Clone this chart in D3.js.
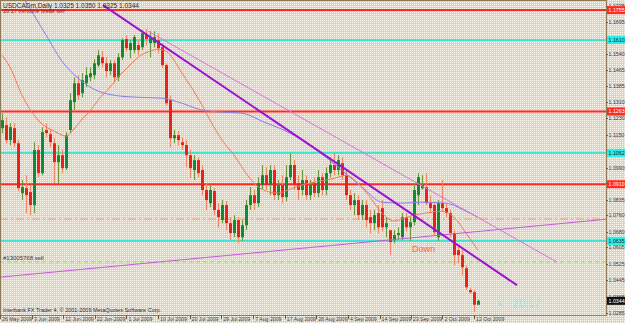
<!DOCTYPE html>
<html>
<head>
<meta charset="utf-8">
<script src="https://cdn.jsdelivr.net/npm/d3@7/dist/d3.min.js"></script>
<style>
  body { margin: 0; background: #ecd6a4; }
  svg { display: block; font-family: "Liberation Sans", Arial, sans-serif; }
</style>
</head>
<body>
<svg id="chart" width="625" height="323"></svg>
<script>
// daily bars, USDCADm, 26 May 2009 .. 13 Oct 2009
const open = [1.1182,1.1197,1.1124,1.1182,1.1109,1.0867,1.0891,1.0872,1.0809,1.1076,
  1.0964,1.1173,1.1153,1.1109,1.1017,1.1051,1.0988,1.1173,1.1308,1.1400,
  1.1352,1.1400,1.1429,1.1439,1.1488,1.1526,1.1497,1.1459,1.1497,1.1429,
  1.1526,1.1615,1.1561,1.1561,1.1585,1.1575,1.1634,1.1595,1.1595,1.1609,
  1.1575,1.1488,1.1318,1.1133,1.1148,1.1114,1.1100,1.1051,1.0979,1.1027,
  1.0979,1.0882,1.0818,1.0877,1.0785,1.0736,1.0809,1.0721,1.0673,1.0736,
  1.0653,1.0711,1.0809,1.0857,1.0818,1.0906,1.0954,1.0906,1.0979,1.0857,
  1.0906,1.0847,1.0944,1.1003,1.0915,1.0882,1.0930,1.0857,1.0915,1.0867,
  1.0944,1.0882,1.0964,1.1003,1.0979,1.1012,1.0954,1.0857,1.0809,1.0833,
  1.0760,1.0809,1.0750,1.0721,1.0770,1.0794,1.0701,1.0687,1.0638,1.0663,
  1.0653,1.0750,1.0701,1.0726,1.0857,1.0891,1.0896,1.0818,1.0809,1.0653,
  1.0818,1.0794,1.0770,1.0673,1.0590,1.0566,1.0502,1.0396,1.0386,1.0325];
const high = [1.1255,1.1235,1.1206,1.1206,1.1124,1.0930,1.0954,1.0906,1.1114,1.1100,
  1.1187,1.1206,1.1173,1.1133,1.1100,1.1076,1.1163,1.1352,1.1429,1.1439,
  1.1449,1.1478,1.1478,1.1517,1.1561,1.1556,1.1526,1.1512,1.1512,1.1546,
  1.1619,1.1634,1.1609,1.1634,1.1609,1.1658,1.1663,1.1653,1.1653,1.1643,
  1.1595,1.1497,1.1342,1.1173,1.1168,1.1138,1.1124,1.1076,1.1051,1.1041,
  1.1003,1.0915,1.0906,1.0891,1.0818,1.0833,1.0828,1.0750,1.0760,1.0750,
  1.0736,1.0833,1.0896,1.0882,1.0944,1.1003,1.0993,1.1003,1.1003,1.0930,
  1.0954,1.1003,1.1061,1.1027,1.0954,1.0979,1.0954,1.0930,1.0944,1.0979,
  1.0964,1.0993,1.1041,1.1061,1.1051,1.1041,1.0979,1.0882,1.0867,1.0857,
  1.0833,1.0833,1.0785,1.0785,1.0809,1.0833,1.0750,1.0677,1.0687,1.0701,
  1.0770,1.0770,1.0750,1.0915,1.0964,1.0954,1.0964,1.0857,1.0818,1.0833,
  1.0930,1.0818,1.0785,1.0687,1.0614,1.0590,1.0517,1.0406,1.0396,1.0350];
const low = [1.1158,1.1109,1.1100,1.1090,1.0877,1.0833,1.0770,1.0760,1.0770,1.0944,
  1.0954,1.1138,1.1090,1.0915,1.0915,1.0964,1.0979,1.1158,1.1270,1.1318,
  1.1332,1.1381,1.1410,1.1420,1.1478,1.1478,1.1429,1.1439,1.1400,1.1410,
  1.1512,1.1556,1.1521,1.1546,1.1536,1.1561,1.1585,1.1526,1.1575,1.1546,
  1.1478,1.1294,1.1090,1.1109,1.1100,1.1076,1.0993,1.0939,1.0930,1.0944,
  1.0857,1.0785,1.0799,1.0760,1.0701,1.0721,1.0687,1.0638,1.0653,1.0624,
  1.0634,1.0687,1.0785,1.0785,1.0799,1.0882,1.0882,1.0857,1.0833,1.0833,
  1.0818,1.0828,1.0930,1.0882,1.0833,1.0857,1.0833,1.0833,1.0847,1.0847,
  1.0857,1.0857,1.0944,1.0954,1.0954,1.0930,1.0833,1.0785,1.0760,1.0736,
  1.0736,1.0701,1.0673,1.0687,1.0673,1.0682,1.0653,1.0566,1.0624,1.0644,
  1.0638,1.0682,1.0634,1.0711,1.0809,1.0882,1.0809,1.0770,1.0663,1.0634,
  1.0779,1.0750,1.0653,1.0517,1.0527,1.0469,1.0396,1.0377,1.0289,1.0325];
const close = [1.1221,1.1124,1.1187,1.1109,1.0891,1.0896,1.0857,1.0809,1.1076,1.0964,
  1.1163,1.1158,1.1114,1.1017,1.1051,1.0988,1.1148,1.1318,1.1400,1.1342,
  1.1415,1.1439,1.1449,1.1497,1.1536,1.1497,1.1459,1.1497,1.1429,1.1526,
  1.1609,1.1570,1.1595,1.1624,1.1561,1.1643,1.1615,1.1619,1.1624,1.1570,
  1.1488,1.1303,1.1133,1.1148,1.1124,1.1100,1.1051,1.0988,1.1027,1.0964,
  1.0882,1.0833,1.0882,1.0785,1.0750,1.0809,1.0721,1.0673,1.0736,1.0653,
  1.0711,1.0809,1.0857,1.0818,1.0915,1.0954,1.0906,1.0979,1.0857,1.0906,
  1.0847,1.0944,1.1003,1.0906,1.0882,1.0930,1.0857,1.0906,1.0867,1.0944,
  1.0882,1.0964,1.1003,1.0979,1.1027,1.0954,1.0857,1.0809,1.0833,1.0760,
  1.0809,1.0736,1.0721,1.0760,1.0701,1.0701,1.0721,1.0629,1.0663,1.0673,
  1.0750,1.0701,1.0726,1.0882,1.0944,1.0906,1.0818,1.0794,1.0677,1.0818,
  1.0794,1.0770,1.0673,1.0566,1.0566,1.0507,1.0410,1.0386,1.0325,1.0344];

// moving averages (bar index, price)
const fastMaIdx = [0,2,5,8,10,13,15,16,18,20,22,24,27,29,32,34,37,39,41,43,45,47,50,52,55,58,61,63,66,69,72,75,78,81,84,86,89,92,95,98,100,103,106,110,113,116,119];
const fastMa = [1.1536,1.1478,1.1342,1.1245,1.1202,1.1168,1.1148,1.1143,1.1178,1.1226,1.1265,1.1318,1.1381,1.1429,1.1488,1.1526,1.1556,1.1565,1.1556,1.1512,1.1449,1.1391,1.1294,1.1221,1.1124,1.1051,1.0964,1.0915,1.0877,1.0867,1.0886,1.0906,1.0920,1.0930,1.0944,1.0954,1.0915,1.0847,1.0770,1.0731,1.0741,1.0760,1.0770,1.0779,1.0750,1.0673,1.0590];
const slowMaIdx = [4,6,8,11,15,19,23,28,34,40,45,50,55,60,65,72,77,81,84,90,95,100,105,111,116,119];
const slowMa = [1.1837,1.1794,1.1731,1.1634,1.1507,1.1425,1.1371,1.1342,1.1332,1.1328,1.1303,1.1270,1.1260,1.1255,1.1216,1.1158,1.1100,1.1041,1.0993,1.0896,1.0823,1.0818,1.0823,1.0818,1.0779,1.0750];

// drawn objects
const channelTop = [[25.25, 1.1779], [128.75, 1.0420]];
const channelThin = [[36.5, 1.1653], [138.75, 1.0532]];
const supportLine = [[-0.5, 1.0459], [151, 1.0740]];
const redLevels = [1.1755, 1.1263, 1.0910];
const cyanLevels = [1.1610, 1.1062, 1.0635];
const dashDotLevel = 1.0741;
const dashLevel = 1.0533;

const priceTicks = [1.1775,1.1695,1.1620,1.1540,1.1465,1.1385,1.1310,1.1230,1.1150,1.1075,1.0990,1.0915,1.0835,1.0760,1.0680,1.0605,1.0525,1.0445,1.0365,1.0285];
const dateLabels = ["26 May 2009","3 Jun 2009","12 Jun 2009","22 Jun 2009","1 Jul 2009","10 Jul 2009","20 Jul 2009","29 Jul 2009","7 Aug 2009","17 Aug 2009","26 Aug 2009","4 Sep 2009","14 Sep 2009","23 Sep 2009","2 Oct 2009","12 Oct 2009"];
const dateTickIdx = [-0.5,7.5,15.3,23.2,31.1,39,46.9,54.8,62.8,70.7,78.6,86.5,94.4,102.2,110.1,118];
const lastPrice = 1.0344;

const W = 625, H = 323;
const plotRight = 606, plotBottom = 315;

const x = d3.scaleLinear().domain([0, 151]).range([2, 606]);
const y = d3.scaleLinear().domain([1.0285, 1.1775]).range([313, 6]);

const svg = d3.select("#chart");
const defs = svg.append("defs");

const pat = defs.append("pattern")
    .attr("id", "dots")
    .attr("width", 2).attr("height", 2)
    .attr("patternUnits", "userSpaceOnUse");
pat.append("rect").attr("width", 2).attr("height", 2).attr("fill", "#ead29e");
pat.append("rect").attr("width", 1).attr("height", 1).attr("fill", "#fffaf0");

defs.append("clipPath").attr("id", "plot")
    .append("rect").attr("x", 1).attr("y", 1)
    .attr("width", plotRight - 1).attr("height", plotBottom - 1);

svg.append("rect").attr("width", W).attr("height", H).attr("fill", "url(#dots)");

const g = svg.append("g").attr("clip-path", "url(#plot)");

// horizontal levels
g.selectAll("line.red").data(redLevels).enter().append("line")
    .attr("x1", 0).attr("x2", plotRight)
    .attr("y1", d => y(d)).attr("y2", d => y(d))
    .attr("stroke", "#ff2b22").attr("stroke-width", 2);

g.selectAll("line.cyan").data(cyanLevels).enter().append("line")
    .attr("x1", 0).attr("x2", plotRight)
    .attr("y1", d => y(d)).attr("y2", d => y(d))
    .attr("stroke", "#3fe6d6").attr("stroke-width", 2);

g.append("line")
    .attr("x1", 0).attr("x2", plotRight)
    .attr("y1", y(dashDotLevel)).attr("y2", y(dashDotLevel))
    .attr("stroke", "#f2a27a").attr("stroke-width", 1.2)
    .attr("stroke-dasharray", "8,3,2,3");

g.append("line")
    .attr("x1", 0).attr("x2", plotRight)
    .attr("y1", y(dashLevel)).attr("y2", y(dashLevel))
    .attr("stroke", "#8fdc4f").attr("stroke-width", 1)
    .attr("stroke-dasharray", "4,3");

// candles
const bars = d3.range(open.length);

g.selectAll("line.wick").data(bars).enter().append("line")
    .attr("x1", i => Math.round(x(i)) + 0.5)
    .attr("x2", i => Math.round(x(i)) + 0.5)
    .attr("y1", i => y(high[i]))
    .attr("y2", i => y(low[i]))
    .attr("stroke", i => close[i] >= open[i] ? "#6f9a3c" : "#f08a6a")
    .attr("stroke-width", 1);

g.selectAll("rect.body").data(bars).enter().append("rect")
    .attr("x", i => Math.round(x(i)) - 1)
    .attr("width", 3)
    .attr("y", i => y(Math.max(open[i], close[i])))
    .attr("height", i => Math.max(1, Math.abs(y(open[i]) - y(close[i]))))
    .attr("fill", i => close[i] >= open[i] ? "#138a3a" : "#e8231c");

// moving averages
const maLine = (idx, vals) => d3.line()
    .x((d, k) => x(idx[k]))
    .y(d => y(d))
    .curve(d3.curveMonotoneX)(vals);

g.append("path").attr("d", maLine(slowMaIdx, slowMa))
    .attr("fill", "none").attr("stroke", "#8a7ee6").attr("stroke-width", 1);

g.append("path").attr("d", maLine(fastMaIdx, fastMa))
    .attr("fill", "none").attr("stroke", "#f07a5c").attr("stroke-width", 1);

// trend lines
const seg = pts => d3.line().x(d => x(d[0])).y(d => y(d[1]))(pts);

g.append("path").attr("d", seg(supportLine))
    .attr("fill", "none").attr("stroke", "#c55ad8").attr("stroke-width", 1);

g.append("path").attr("d", seg(channelThin))
    .attr("fill", "none").attr("stroke", "#d874d8").attr("stroke-width", 1);

g.append("path").attr("d", seg(channelTop))
    .attr("fill", "none").attr("stroke", "#9a12d2").attr("stroke-width", 2);

// texts on the chart
svg.append("text").attr("x", 3).attr("y", 7.5)
    .style("font-size", "6.5px").attr("fill", "#2a2a2a")
    .text("USDCADm,Daily  1.0325 1.0350 1.0325 1.0344");

svg.append("text").attr("x", 3).attr("y", 13)
    .style("font-size", "5.5px").attr("fill", "#7a1a10")
    .text("20:17  trendline break sell");

svg.append("text").attr("x", 3).attr("y", 260)
    .style("font-size", "6px").attr("fill", "#3a3a3a")
    .text("#13005768 sell");

svg.append("text").attr("x", 412).attr("y", 252)
    .style("font-size", "9px").attr("fill", "#f0664e")
    .text("Down");

svg.append("text").attr("x", 497).attr("y", 307)
    .style("font-size", "11px").attr("fill", "#a3e6dc")
    .attr("xml:space", "preserve")
    .text("<   20:17");

svg.append("text").attr("x", 3).attr("y", 312)
    .style("font-size", "5.5px").attr("fill", "#2a2a2a")
    .text("Interbank FX Trader 4, \u00a9 2001-2009 MetaQuotes Software Corp.");

// frame
svg.append("rect").attr("x", 0.5).attr("y", 0.5)
    .attr("width", plotRight).attr("height", plotBottom)
    .attr("fill", "none").attr("stroke", "#8f7a58");

// price axis; plain labels give way to the coloured price tags
const tagPrices = redLevels.concat(cyanLevels, [lastPrice]);
const freeTicks = priceTicks.filter(p => tagPrices.every(t => Math.abs(y(p) - y(t)) > 3.5));

const pa = svg.append("g");
pa.selectAll("line").data(priceTicks).enter().append("line")
    .attr("x1", plotRight).attr("x2", plotRight + 2)
    .attr("y1", d => Math.round(y(d)) + 0.5).attr("y2", d => Math.round(y(d)) + 0.5)
    .attr("stroke", "#6a5a40");
pa.selectAll("text").data(freeTicks).enter().append("text")
    .attr("x", plotRight + 2.5).attr("y", d => y(d) + 2)
    .style("font-size", "5.3px").attr("fill", "#3a3a3a")
    .text(d => d.toFixed(4));

const tag = (p, bg, fg) => {
    svg.append("rect").attr("x", plotRight + 1).attr("y", y(p) - 4)
        .attr("width", W - plotRight - 1).attr("height", 8).attr("fill", bg);
    svg.append("text").attr("x", plotRight + 2.5).attr("y", y(p) + 2)
        .style("font-size", "5.3px").attr("fill", fg)
        .text(p.toFixed(4));
};
redLevels.forEach(p => tag(p, "#ff2b22", "#ffffff"));
cyanLevels.forEach(p => tag(p, "#22f0e6", "#1a1a1a"));
tag(lastPrice, "#101010", "#ffffff");

// date axis
const da = svg.append("g");
da.selectAll("line").data(dateTickIdx).enter().append("line")
    .attr("x1", d => Math.round(x(d)) + 0.5).attr("x2", d => Math.round(x(d)) + 0.5)
    .attr("y1", plotBottom).attr("y2", plotBottom + 4)
    .attr("stroke", "#6a5a40");
da.selectAll("text").data(dateLabels).enter().append("text")
    .attr("x", (d, k) => x(dateTickIdx[k]) + 2).attr("y", 321)
    .style("font-size", "5.2px").attr("fill", "#3a3a3a")
    .text(d => d);
</script>
</body>
</html>
